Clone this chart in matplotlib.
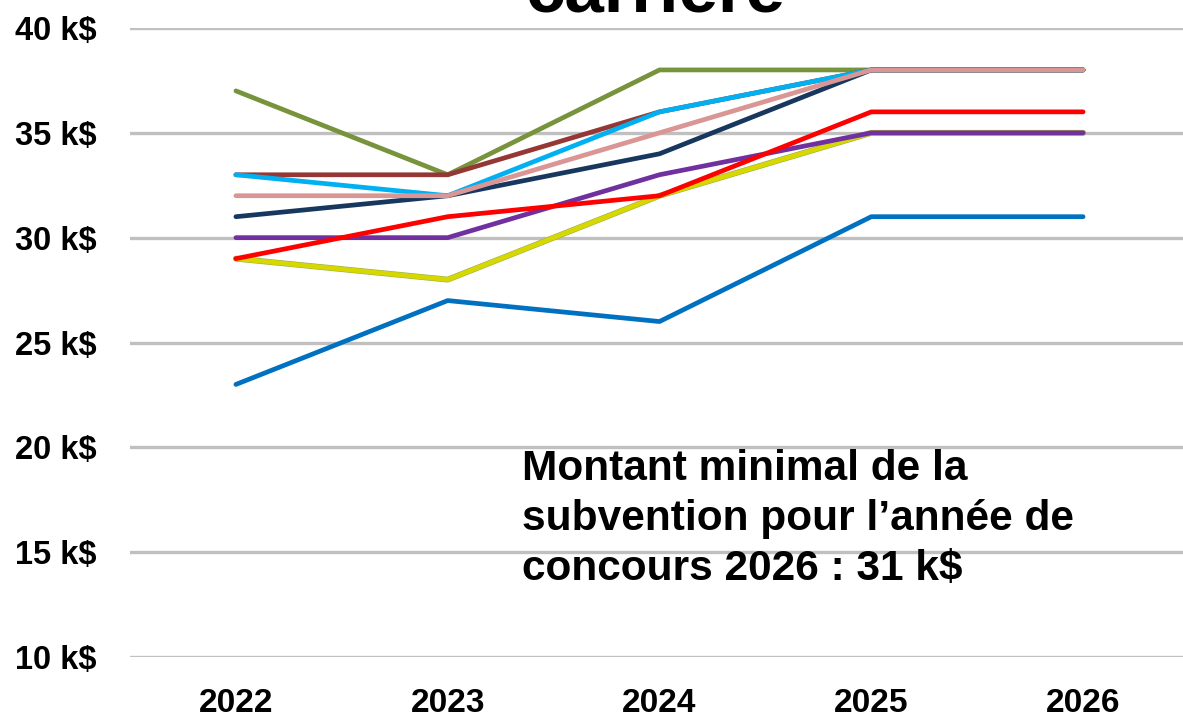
import matplotlib
matplotlib.use("Agg")
import matplotlib.pyplot as plt

years = ["2022", "2023", "2024", "2025", "2026"]
y_ticks = [10, 15, 20, 25, 30, 35, 40]
y_tick_labels = ["10 k$", "15 k$", "20 k$", "25 k$", "30 k$", "35 k$", "40 k$"]

s_blue = [23, 27, 26, 31, 31]
s_olive = [37, 33, 38, 38, 38]
s_brown = [33, 33, 36, 38, 38]
s_lightblue = [33, 32, 36, 38, 38]
s_navy = [31, 32, 34, 38, 38]
s_green = [29, 28, 32, 35, 35]
s_yellow = [29, 28, 32, 35, 35]
s_purple = [30, 30, 33, 35, 35]
s_red = [29, 31, 32, 36, 36]
s_pink = [32, 32, 35, 38, 38]

series = [
    (s_blue, "#0070C0", 3.4),
    (s_olive, "#77933C", 3.4),
    (s_brown, "#953735", 3.4),
    (s_lightblue, "#00B0F0", 3.4),
    (s_navy, "#17375E", 3.4),
    (s_green, "#92B050", 4.2),
    (s_yellow, "#D8D800", 3.4),
    (s_purple, "#7030A0", 3.4),
    (s_red, "#FF0000", 3.4),
    (s_pink, "#D99694", 3.4),
]

annotation_lines = [
    "Montant minimal de la",
    "subvention pour l\u2019année de",
    "concours 2026 : 31 k$",
]

plt.rcParams['font.family'] = ['Liberation Sans', 'DejaVu Sans']

fig = plt.figure(figsize=(11.83, 7.18), dpi=100)
W, H = 1183, 718
left, right = 130, 1189
top, bottom = 28, 657
ax = fig.add_axes([left / W, 1 - bottom / H, (right - left) / W, (bottom - top) / H])

x = list(range(len(years)))
for vals, col, lw in series:
    ax.plot(x, vals, color=col, lw=lw, solid_capstyle='round', solid_joinstyle='round', zorder=3)

ax.set_xlim(-0.5, 4.5)
ax.set_ylim(10, 40)
ax.set_yticks(y_ticks)
ax.set_yticklabels(y_tick_labels, fontsize=23.5, fontweight='bold')
ax.set_xticks(x)
ax.set_xticklabels(years, fontsize=24, fontweight='bold')
ax.tick_params(axis='y', length=0, pad=24)
ax.tick_params(axis='x', length=0, pad=22)
for s in ax.spines.values():
    s.set_visible(False)
ax.grid(axis='y', color='#C0C0C0', lw=2.4, zorder=1)
ax.set_axisbelow(True)

fig.text(655 / W, 1 - 12 / H, "carrière", fontsize=51, fontweight='bold',
         ha='center', va='baseline')

baselines = [480, 530, 580]
for line, b in zip(annotation_lines, baselines):
    fig.text(522 / W, 1 - b / H, line, fontsize=30.5, fontweight='bold',
             ha='left', va='baseline', zorder=5)

fig.savefig("out.png", dpi=100)
